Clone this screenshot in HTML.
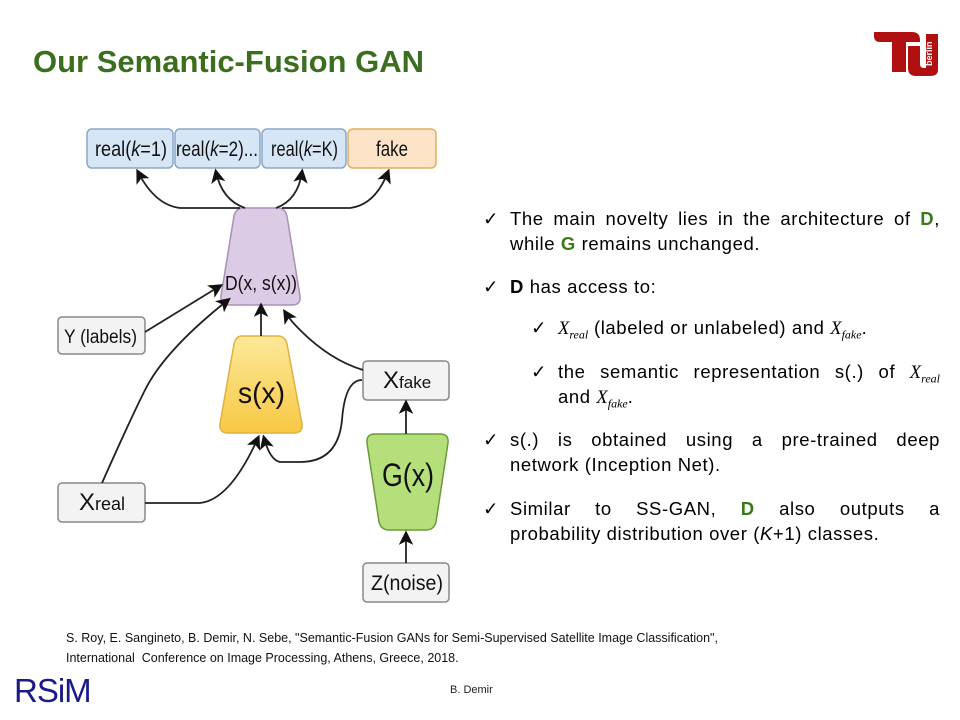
<!DOCTYPE html>
<html><head><meta charset="utf-8"><style>
body{margin:0;width:960px;height:720px;background:#fff;position:relative;overflow:hidden;font-family:"Liberation Sans",Arial,sans-serif}
.t{position:absolute;font-size:18.5px;letter-spacing:0.6px;color:#000;line-height:25px;white-space:nowrap}
.g{color:#3a7a1a;font-weight:bold}
.m{font-family:"Liberation Serif",serif;font-style:italic;letter-spacing:0}
.jl{text-align:justify;text-align-last:justify}
</style></head><body>
<div style="position:absolute;left:33px;top:44px;font-size:31px;font-weight:bold;color:#3b6e1e">Our Semantic-Fusion GAN</div>
<svg style="position:absolute;left:872px;top:28px" width="70" height="50">
<path d="M2 4 H40 Q48 4 48 12 V14 H34 V44 H20 V14 H8 Q2 14 2 8Z" fill="#b01010"/>
<path d="M36 18 H48 V36 Q48 40 52 40 H54 V6 H66 V42 Q66 48 58 48 H44 Q36 48 36 40Z" fill="#b01010"/>
<text x="60" y="38" transform="rotate(-90 60 38)" font-size="9" fill="#fff" font-weight="bold" font-family="Liberation Sans">berlin</text>
</svg>
<svg style="position:absolute;left:0;top:0" width="470" height="620" font-family="Liberation Sans,sans-serif">
<defs><marker id="a" markerWidth="8" markerHeight="8" refX="6" refY="4" orient="auto"><path d="M0 0 L8 4 L0 8 L2 4Z" fill="#111"/></marker>
<linearGradient id="sy" x1="0" y1="0" x2="0" y2="1"><stop offset="0" stop-color="#fde99a"/><stop offset="1" stop-color="#f7c843"/></linearGradient></defs>
<g stroke-width="1.5">
<rect x="87" y="129" width="86" height="39" rx="5" fill="#d6e6f6" stroke="#8aa8c8"/>
<rect x="175" y="129" width="85" height="39" rx="5" fill="#d6e6f6" stroke="#8aa8c8"/>
<rect x="262" y="129" width="84" height="39" rx="5" fill="#d6e6f6" stroke="#8aa8c8"/>
<rect x="348" y="129" width="88" height="39" rx="5" fill="#fde3c7" stroke="#e0b060"/>
<rect x="58" y="317" width="87" height="37" rx="4" fill="#f3f3f3" stroke="#888"/>
<rect x="363" y="361" width="86" height="39" rx="4" fill="#f3f3f3" stroke="#888"/>
<rect x="58" y="483" width="87" height="39" rx="4" fill="#f3f3f3" stroke="#888"/>
<rect x="363" y="563" width="86" height="39" rx="4" fill="#f3f3f3" stroke="#888"/>
<path d="M243 208 H278 Q285 208 287 216 L300 296 Q301 305 292 305 H229 Q220 305 221 296 L234 216 Q236 208 243 208Z" fill="#dccbe4" stroke="#a890b8"/>
<path d="M242 336 H278 Q285 336 287 344 L302 424 Q303 433 294 433 H228 Q219 433 220 424 L234 344 Q236 336 242 336Z" fill="url(#sy)" stroke="#e0b040"/>
<path d="M375 434 H440 Q449 434 448 443 L436 522 Q434 530 426 530 H389 Q381 530 379 522 L367 443 Q366 434 375 434Z" fill="#b5df7a" stroke="#6a9a3a"/>
</g>
<g font-size="21" fill="#111">
<text x="95" y="156" textLength="72" lengthAdjust="spacingAndGlyphs">real(<tspan font-style="italic">k</tspan>=1)</text>
<text x="176" y="156" textLength="82" lengthAdjust="spacingAndGlyphs">real(<tspan font-style="italic">k</tspan>=2)...</text>
<text x="271" y="156" textLength="67" lengthAdjust="spacingAndGlyphs">real(<tspan font-style="italic">k</tspan>=K)</text>
<text x="376" y="156" textLength="32" lengthAdjust="spacingAndGlyphs">fake</text>
<text x="225" y="290" font-size="20" textLength="72" lengthAdjust="spacingAndGlyphs">D(x, s(x))</text>
<text x="64" y="343" font-size="19" textLength="73" lengthAdjust="spacingAndGlyphs">Y (labels)</text>
<text x="238" y="403" font-size="30" textLength="47" lengthAdjust="spacingAndGlyphs">s(x)</text>
<text x="383" y="388" font-size="24">X<tspan font-size="17">fake</tspan></text>
<text x="382" y="486" font-size="32" textLength="52" lengthAdjust="spacingAndGlyphs">G(x)</text>
<text x="79" y="510" font-size="24">X<tspan font-size="18">real</tspan></text>
<text x="371" y="590" font-size="21" textLength="72" lengthAdjust="spacingAndGlyphs">Z(noise)</text>
</g>
<g fill="none" stroke="#222" stroke-width="1.8" marker-end="url(#a)">
<path d="M240 208 H180 Q155 205 138 172"/>
<path d="M245 208 Q222 200 216 172"/>
<path d="M276 208 Q298 200 302 172"/>
<path d="M282 208 H350 Q375 205 388 172"/>
<path d="M145 332 L220 286"/>
<path d="M102 483 Q130 420 145 390 Q165 350 228 300"/>
<path d="M261 336 V306"/>
<path d="M363 370 Q330 360 300 330 Q290 320 285 312"/>
<path d="M145 503 H200 Q230 500 258 438"/>
<path d="M362 380 Q345 380 342 420 Q338 462 300 462 H280 Q270 460 264 438"/>
<path d="M406 434 V403"/>
<path d="M406 563 V534"/>
</g>
</svg>
<div class="t" style="left:483px;top:206px">✓</div>
<div class="t jl" style="left:510px;top:206px;width:430px">The main novelty lies in the architecture of <span class="g">D</span>,</div>
<div class="t" style="left:510px;top:231px">while <span class="g">G</span> remains unchanged.</div>
<div class="t" style="left:483px;top:274px">✓</div>
<div class="t" style="left:510px;top:274px"><b>D</b> has access to:</div>
<div class="t" style="left:531px;top:315px">✓</div>
<div class="t" style="left:558px;top:315px"><span class="m">X<sub style="font-size:12px">real</sub></span> (labeled or unlabeled) and <span class="m">X<sub style="font-size:12px">fake</sub></span>.</div>
<div class="t" style="left:531px;top:359px">✓</div>
<div class="t jl" style="left:558px;top:359px;width:382px">the semantic representation s(.) of <span class="m">X<sub style="font-size:12px">real</sub></span></div>
<div class="t" style="left:558px;top:384px">and <span class="m">X<sub style="font-size:12px">fake</sub></span>.</div>
<div class="t" style="left:483px;top:427px">✓</div>
<div class="t jl" style="left:510px;top:427px;width:430px">s(.) is obtained using a pre-trained deep</div>
<div class="t" style="left:510px;top:452px">network (Inception Net).</div>
<div class="t" style="left:483px;top:496px">✓</div>
<div class="t jl" style="left:510px;top:496px;width:430px">Similar to SS-GAN, <span class="g">D</span> also outputs a</div>
<div class="t" style="left:510px;top:521px">probability distribution over (<i>K</i>+1) classes.</div>
<div style="position:absolute;left:66px;top:628px;font-size:12.5px;line-height:20px;color:#111">S. Roy, E. Sangineto, B. Demir, N. Sebe, "Semantic-Fusion GANs for Semi-Supervised Satellite Image Classification",<br>International&nbsp; Conference on Image Processing, Athens, Greece, 2018.</div>
<div style="position:absolute;left:14px;top:672px;font-size:33px;color:#1a1a8a;letter-spacing:-1px">RSiM</div>
<div style="position:absolute;left:450px;top:684px;font-size:11px;color:#222">B. Demir</div>
</body></html>
